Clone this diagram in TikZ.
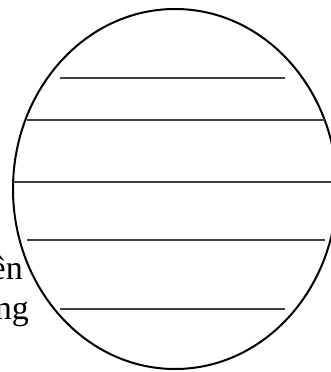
\documentclass[tikz,border=0pt]{standalone}
\usepackage{fontspec}
\setmainfont{Liberation Serif}
\usetikzlibrary{positioning}

\begin{document}
\begin{tikzpicture}[x=1pt, y=-1pt,
  rim/.style={draw=black, line width=2pt},
  parallel/.style={draw=black!75, line width=1.3pt},
  lbl/.style={anchor=base east, inner sep=0pt, font=\fontsize{34}{40}\selectfont}]
\useasboundingbox (0,0) rectangle (331,372);
\clip (0,0) rectangle (331,372);
% globe outline
\draw[rim] (175,189) ellipse [x radius=162, y radius=180];
% parallels
\draw[parallel] (60,78) -- (285,78);
\draw[parallel] (27,120) -- (325,120);
\draw[parallel] (13,182) -- (331,182);
\draw[parallel] (27,240) -- (325,240);
\draw[parallel] (60,309) -- (285,309);
% cut-off labels on the left
\node[lbl] (txtA) at (23,279) {ên};
\node[lbl] (txtB) at (29,319) {ng};
\end{tikzpicture}
\end{document}
